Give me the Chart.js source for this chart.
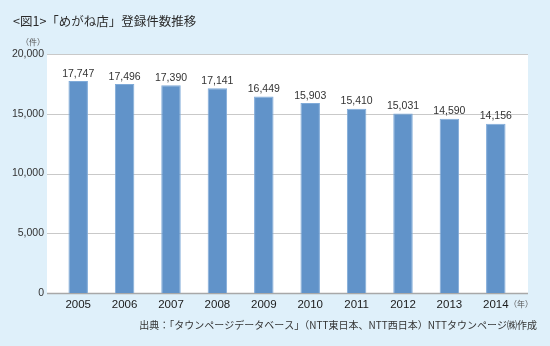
<!DOCTYPE html>
<html lang="ja">
  <head>
    <meta charset="UTF-8" />
    <title>めがね店 登録件数推移</title>
    <script src="https://cdn.jsdelivr.net/npm/chart.js"></script>
    <style>
      html, body { margin: 0; padding: 0; background: #dff0fa; }
      #wrap { width: 550px; height: 346px; position: relative; }
    </style>
  </head>
  <body>
    <div id="wrap"><canvas id="shopChart"></canvas></div>

    <script>
      const years = ["2005", "2006", "2007", "2008", "2009", "2010", "2011", "2012", "2013", "2014"];
      const counts = [17747, 17496, 17390, 17141, 16449, 15903, 15410, 15031, 14590, 14156];
      const yTicks = [0, 5000, 10000, 15000, 20000];

      const titleText = "<図1>「めがね店」登録件数推移";
      const sourceText = "出典：「タウンページデータベース」（NTT東日本、NTT西日本）NTTタウンページ㈱作成";

      const jp = '"Noto Sans CJK JP", "Noto Sans", sans-serif';
      const num = '"Liberation Sans", Arial, sans-serif';

      // white plot panel + gridlines, a bit wider than the category area
      const panel = {
        id: "panel",
        beforeDatasetsDraw(chart) {
          const { ctx, chartArea, scales } = chart;
          const left = chartArea.left - 8;
          const right = chartArea.right + 9;
          ctx.save();
          ctx.fillStyle = "#ffffff";
          ctx.fillRect(left, chartArea.top, right - left, chartArea.bottom - chartArea.top);
          yTicks.forEach((v) => {
            const y = Math.round(scales.y.getPixelForValue(v)) + 0.5;
            ctx.strokeStyle = v === 0 ? "#a8a8a8" : "#c9c9c9";
            ctx.lineWidth = v === 0 ? 1.5 : 1.2;
            ctx.beginPath();
            ctx.moveTo(left, y);
            ctx.lineTo(right, y);
            ctx.stroke();
          });
          ctx.restore();
        },
        afterDatasetsDraw(chart) {
          const { ctx } = chart;
          const meta = chart.getDatasetMeta(0);
          ctx.save();
          // value labels above bars
          ctx.fillStyle = "#333333";
          ctx.font = "10.5px " + num;
          ctx.textAlign = "center";
          ctx.textBaseline = "bottom";
          meta.data.forEach((bar, i) => {
            ctx.fillText(counts[i].toLocaleString("en-US"), bar.x, bar.y - 2);
          });

          // title
          ctx.textAlign = "left";
          ctx.textBaseline = "alphabetic";
          ctx.fillStyle = "#2b2b2b";
          ctx.font = "12.5px " + jp;
          ctx.fillText(titleText, 13, 26);

          // units
          ctx.fillStyle = "#555555";
          ctx.font = "8px " + jp;
          ctx.textAlign = "center";
          ctx.fillText("（件）", 33, 45);
          ctx.textAlign = "left";
          ctx.fillText("（年）", 509, 307);

          // source
          ctx.fillStyle = "#333333";
          ctx.font = "10px " + jp;
          ctx.textAlign = "right";
          ctx.fillText(sourceText, 537, 329);
          ctx.restore();
        },
      };

      const ctx = document.getElementById("shopChart").getContext("2d");
      new Chart(ctx, {
        type: "bar",
        data: {
          labels: years,
          datasets: [
            {
              data: counts,
              backgroundColor: "#6193c9",
              borderColor: "#80abd9",
              borderWidth: 1,
              categoryPercentage: 1,
              barPercentage: 0.42,
            },
          ],
        },
        options: {
          responsive: true,
          maintainAspectRatio: false,
          animation: false,
          layout: { padding: { top: 54, left: 0, right: 31, bottom: 0 } },
          plugins: {
            legend: { display: false },
            tooltip: { enabled: false },
          },
          scales: {
            x: {
              afterFit(scale) {
                scale.height = 53;
              },
              grid: { display: false, drawTicks: false },
              border: { display: false },
              ticks: {
                color: "#1a1a1a",
                font: { family: num, size: 11.5 },
                padding: 5,
              },
            },
            y: {
              min: 0,
              max: 20000,
              afterFit(scale) {
                scale.width = 55;
              },
              afterBuildTicks(scale) {
                scale.ticks = yTicks.map((v) => ({ value: v }));
              },
              grid: { display: false, drawTicks: false },
              border: { display: false },
              ticks: {
                color: "#333333",
                font: { family: num, size: 10.5 },
                padding: 11,
                callback: (v) => v.toLocaleString("en-US"),
              },
            },
          },
        },
        plugins: [panel],
      });
    </script>
  </body>
</html>
